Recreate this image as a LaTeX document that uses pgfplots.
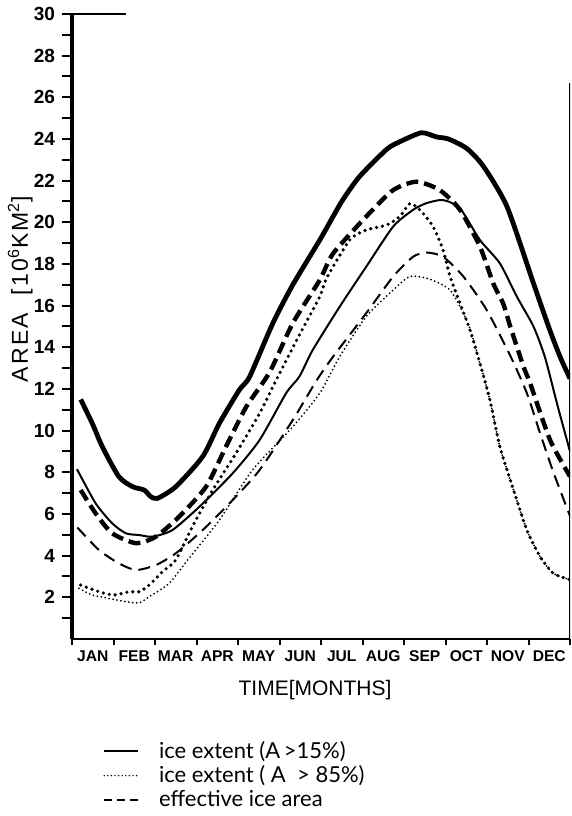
\documentclass[border=0pt]{standalone}
\usepackage{fontspec}
\setmainfont{Liberation Sans}
\newfontfamily\legfont{Lato}
\usepackage{pgfplots}
\pgfplotsset{compat=1.18}
\begin{document}
\begin{tikzpicture}
\begin{axis}[
  scale only axis, width=249pt, height=312.5pt,
  xmin=0, xmax=12, ymin=0, ymax=30,
  axis x line*=bottom, axis y line*=left,
  axis line style={-},
  x axis line style={line width=1.4pt},
  y axis line style={line width=2pt},
  tick align=outside,
  major tick length=5pt, minor tick length=5pt,
  tick style={black, line width=1pt},
  xtick={0,1,...,12},
  xticklabels={JAN,FEB,MAR,APR,MAY,JUN,JUL,AUG,SEP,OCT,NOV,DEC,{}},
  xtick style={/pgfplots/major tick length=3pt},
  x tick label style={xshift=10.375pt, yshift=2.5pt, font=\bfseries\fontsize{7.8}{8}\selectfont},
  ytick={2,4,...,30},
  minor ytick={1,3,...,29},
  y tick label style={font=\bfseries\fontsize{9.5}{10}\selectfont},
  /pgf/number format/assume math mode=true,
  xlabel={TIME[MONTHS]},
  xlabel style={at={(axis description cs:0.488,-0.082)}, anchor=center, font=\fontsize{10.5}{12}\selectfont},
  ylabel={AREA\ \ [10\textsuperscript{6}KM\textsuperscript{2}]},
  ylabel style={at={(axis description cs:-0.104,0.56)}, anchor=center, font=\fontsize{11.5}{12}\selectfont\addfontfeature{LetterSpace=10}},
  legend style={at={(axis description cs:0.05,-0.150)}, anchor=north west, draw=none, fill=none,
    font=\legfont\fontsize{11}{12}\selectfont, row sep=-1.8pt, column sep=8pt, cells={anchor=west}},
  legend cell align=left,
  legend image code/.code={\draw[#1] (0pt,0pt) -- (17pt,0pt);},
]
% thick solid: ice extent A>15% (year 1)
\addplot[forget plot, black, line width=2.4pt, line join=round, smooth, tension=0.4] coordinates {
(0.21,11.5)(0.5,10.3)(0.73,9.23)(1.13,7.79)(1.46,7.31)(1.74,7.15)(1.90,6.83)(2.06,6.75)(2.5,7.31)(3.15,8.76)(3.55,10.35)(4.03,11.95)(4.28,12.59)(4.84,15.16)(5.32,17.0)(5.97,19.15)(6.5,21.0)(6.93,22.2)(7.58,23.5)(7.9,23.87)(8.42,24.3)(8.78,24.1)(9.07,24.0)(9.51,23.55)(9.91,22.7)(10.48,20.76)(11.12,17.07)(11.5,14.9)(11.76,13.55)(12.0,12.5)};
% thin solid: ice extent A>15% (year 2)
\addplot[forget plot, black, line width=1pt, line join=round, smooth, tension=0.4] coordinates {
(0.12,8.15)(0.57,6.51)(0.97,5.55)(1.30,5.07)(1.62,4.99)(1.94,4.91)(2.42,5.23)(3.07,6.35)(3.87,7.95)(4.52,9.55)(5.16,11.8)(5.48,12.6)(5.80,13.87)(6.45,15.95)(7.09,17.87)(7.74,19.8)(8.22,20.6)(8.54,20.92)(8.94,21.07)(9.35,20.67)(9.83,19.15)(10.31,18.03)(10.72,16.43)(11.12,15.0)(11.4,13.5)(11.7,11.2)(12.0,9.0)};
% thick dashed: effective ice area (year 1)
\addplot[forget plot, black, line width=2.2pt, dash pattern=on 6pt off 3pt, smooth, tension=0.4] coordinates {
(0.21,7.15)(0.57,6.03)(0.97,5.07)(1.54,4.6)(2.02,4.91)(2.58,5.87)(3.23,7.31)(3.71,9.23)(4.2,11.15)(4.76,12.8)(5.32,15.16)(5.97,17.23)(6.29,18.5)(7.09,20.28)(7.74,21.55)(8.3,21.95)(8.86,21.55)(9.35,20.6)(9.83,18.83)(10.15,17.07)(10.39,16.1)(10.56,15.0)(10.88,13.07)(11.04,12.27)(11.52,9.55)(12.0,7.8)};
% thin dashed: effective ice area (year 2)
\addplot[forget plot, black, line width=1pt, dash pattern=on 6pt off 3.5pt, smooth, tension=0.4] coordinates {
(0.13,5.35)(0.65,4.27)(1.13,3.63)(1.54,3.31)(2.02,3.55)(2.5,4.11)(3.15,5.23)(3.87,6.67)(4.52,8.11)(5.32,10.51)(5.89,12.4)(6.29,13.55)(7.09,15.64)(7.74,17.4)(8.22,18.35)(8.54,18.55)(8.94,18.35)(9.43,17.4)(9.99,15.8)(10.56,13.6)(10.96,11.8)(11.28,9.87)(11.6,8.0)(12.0,5.9)};
% thick dotted: ice extent A>85% (year 1)
\addplot[forget plot, black, line width=1.8pt, dash pattern=on 0pt off 3pt, line cap=round, smooth, tension=0.4] coordinates {
(0.21,2.59)(0.65,2.27)(1.01,2.11)(1.38,2.27)(1.62,2.27)(1.86,2.59)(2.18,3.23)(2.5,3.79)(2.9,5.39)(3.39,7.15)(3.95,8.91)(4.52,10.83)(4.92,12.43)(5.48,14.6)(5.97,16.43)(6.13,17.3)(6.69,19.15)(7.09,19.63)(7.58,19.87)(7.9,20.28)(8.14,20.9)(8.38,20.6)(8.7,19.8)(8.94,18.67)(9.11,17.4)(9.35,16.11)(9.59,14.83)(9.83,13.23)(10.07,11.47)(10.31,9.23)(10.64,7.15)(10.96,5.23)(11.28,3.95)(11.6,3.15)(12.0,2.85)};
% thin dotted: ice extent A>85% (year 2)
\addplot[forget plot, black, line width=1pt, dash pattern=on 0pt off 2pt, line cap=round, smooth, tension=0.4] coordinates {
(0.17,2.43)(0.49,2.11)(0.89,1.95)(1.3,1.79)(1.62,1.74)(1.86,2.03)(2.34,2.67)(2.75,3.7)(3.55,5.71)(4.35,8.11)(5.32,10.19)(5.97,11.8)(6.45,13.55)(7.09,15.48)(7.74,16.75)(8.14,17.4)(8.54,17.32)(8.86,17.07)(9.11,16.75)(9.35,15.96)(9.59,14.9)(9.83,13.23)(10.07,11.47)(10.31,9.23)(10.64,7.15)(10.96,5.23)(11.28,3.95)(11.6,3.15)(12.0,2.85)};
\addlegendimage{black, line width=0.9pt}
\addlegendentry{ice extent (A\,>15\%)}
\addlegendimage{black, line width=0.8pt, dash pattern=on 0pt off 1.8pt, line cap=round}
\addlegendentry{ice extent ( A \ > 85\%)}
\addlegendimage{black, line width=0.9pt, dash pattern=on 4pt off 2.5pt}
\addlegendentry{effective ice area}
\draw[line width=1.4pt] (axis cs:0,30) -- (axis cs:1.3,30);
\draw[line width=1.2pt] (axis cs:12,0) -- (axis cs:12,26.7);
\coordinate (bl) at (rel axis cs:0,0);
\coordinate (tr) at (rel axis cs:1,1);
\end{axis}
\pgfresetboundingbox
\path[use as bounding box] ([shift={(-36pt,-88.5pt)}]bl) rectangle ([shift={(0.6pt,7pt)}]tr);
\end{tikzpicture}
\end{document}
